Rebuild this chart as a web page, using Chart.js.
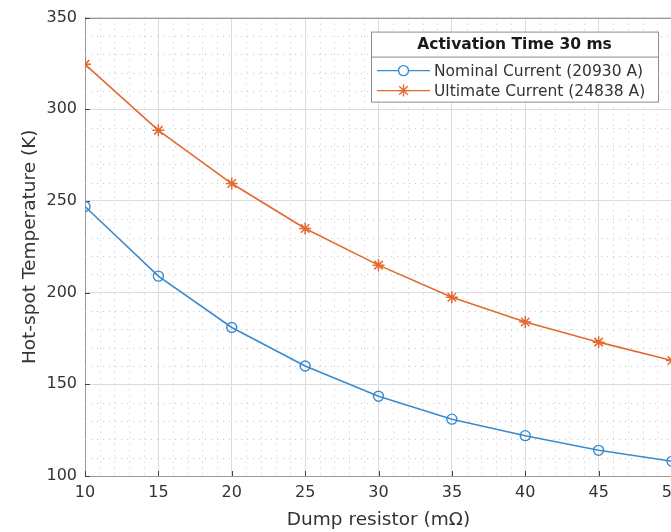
<!DOCTYPE html>
<html>
<head>
<meta charset="utf-8">
<script src="https://cdn.jsdelivr.net/npm/chart.js"></script>
<style>
  html, body { margin: 0; padding: 0; overflow: hidden; background: #fff; }
  #wrap { position: relative; width: 690px; height: 532px; }
</style>
</head>
<body>
<div id="wrap"><canvas id="hotspotChart"></canvas></div>
<script>
// Hot-spot temperature vs dump resistor, activation time 30 ms
const resistances = [10, 15, 20, 25, 30, 35, 40, 45, 50];          // mOhm
const nominalTemps = [247, 209, 181, 160, 143.5, 131, 122, 114, 108]; // K, 20930 A
const ultimateTemps = [324.5, 288.5, 259.5, 235, 215, 197.5, 184, 173, 163]; // K, 24838 A
const xTicks = [10, 15, 20, 25, 30, 35, 40, 45, 50];
const yTicks = [100, 150, 200, 250, 300, 350];

const legendTitle = 'Activation Time 30 ms';
const seriesNames = ['Nominal Current (20930 A)', 'Ultimate Current (24838 A)'];

const textColor = '#333333';
const blue = '#3a8ad0';
const orange = '#e2692f';
const FONT = "'DejaVu Sans', sans-serif";

// dotted minor grid, inward ticks and top frame line
const gridPlugin = {
    id: 'minorGrid',
    beforeDatasetsDraw(chart) {
        const {ctx, chartArea: a, scales: {x, y}} = chart;
        ctx.save();
        ctx.lineWidth = 1;
        ctx.strokeStyle = '#c6c6c6';
        ctx.setLineDash([1, 5]);
        for (let v = 10; v <= 50; v += 1) {
            if (v % 5 === 0) continue;
            const px = Math.round(x.getPixelForValue(v)) + 0.5;
            ctx.beginPath();
            ctx.moveTo(px, a.top);
            ctx.lineTo(px, a.bottom);
            ctx.stroke();
        }
        for (let v = 100; v <= 350; v += 10) {
            if (v % 50 === 0) continue;
            const py = Math.round(y.getPixelForValue(v)) + 0.5;
            ctx.beginPath();
            ctx.moveTo(a.left, py);
            ctx.lineTo(a.right, py);
            ctx.stroke();
        }
        ctx.setLineDash([]);
        // top frame
        ctx.strokeStyle = '#999';
        ctx.beginPath();
        ctx.moveTo(a.left, Math.round(a.top) + 0.5);
        ctx.lineTo(a.right, Math.round(a.top) + 0.5);
        ctx.stroke();
        // inward ticks
        ctx.strokeStyle = '#404040';
        xTicks.forEach(v => {
            const px = Math.round(x.getPixelForValue(v)) + 0.5;
            ctx.beginPath();
            ctx.moveTo(px, a.bottom);
            ctx.lineTo(px, a.bottom - 5);
            ctx.stroke();
        });
        yTicks.forEach(v => {
            const py = Math.round(y.getPixelForValue(v)) + 0.5;
            ctx.beginPath();
            ctx.moveTo(a.left, py);
            ctx.lineTo(a.left + 5, py);
            ctx.stroke();
        });
        ctx.restore();
    }
};

// MATLAB-like boxed legend with a title
const boxLegendPlugin = {
    id: 'boxLegend',
    afterDraw(chart) {
        const {ctx, chartArea: a} = chart;
        const w = 287, h = 70;
        const left = 371, top = a.top + 14;
        ctx.save();
        ctx.fillStyle = '#fff';
        ctx.fillRect(left, top, w, h);
        ctx.strokeStyle = '#8c8c8c';
        ctx.lineWidth = 1;
        ctx.strokeRect(left + 0.5, top + 0.5, w, h);
        ctx.beginPath();
        ctx.moveTo(left, top + 25.5);
        ctx.lineTo(left + w, top + 25.5);
        ctx.stroke();

        ctx.fillStyle = '#1a1a1a';
        ctx.font = "bold 15.5px " + FONT;
        ctx.textAlign = 'center';
        ctx.textBaseline = 'middle';
        ctx.fillText(legendTitle, left + w / 2, top + 13);

        ctx.font = "15.5px " + FONT;
        ctx.textAlign = 'left';
        chart.data.datasets.forEach((ds, i) => {
            const yy = top + 39 + i * 20;
            ctx.strokeStyle = ds.borderColor;
            ctx.lineWidth = 1.4;
            ctx.beginPath();
            ctx.moveTo(left + 6, yy);
            ctx.lineTo(left + 59, yy);
            ctx.stroke();
            ctx.fillStyle = '#fff';
            Chart.helpers.drawPoint(ctx, {
                pointStyle: ds.pointStyle,
                radius: ds.pointRadius,
                rotation: 0,
                borderWidth: 1.4
            }, left + 32.5, yy);
            ctx.fillStyle = textColor;
            ctx.fillText(ds.label, left + 63, yy + 1);
        });
        ctx.restore();
    }
};

const ctx = document.getElementById('hotspotChart');
new Chart(ctx, {
    type: 'line',
    data: {
        datasets: [
            {
                label: seriesNames[0],
                data: resistances.map((r, i) => ({x: r, y: nominalTemps[i]})),
                borderColor: blue,
                backgroundColor: 'rgba(0,0,0,0)',
                pointStyle: 'circle',
                pointRadius: 5,
                pointBorderWidth: 1.4,
                pointBorderColor: blue,
                pointBackgroundColor: 'rgba(0,0,0,0)',
                borderWidth: 1.6,
                tension: 0
            },
            {
                label: seriesNames[1],
                data: resistances.map((r, i) => ({x: r, y: ultimateTemps[i]})),
                borderColor: orange,
                backgroundColor: 'rgba(0,0,0,0)',
                pointStyle: 'star',
                pointRadius: 6,
                pointBorderWidth: 1.5,
                pointBorderColor: orange,
                borderWidth: 1.6,
                tension: 0
            }
        ]
    },
    options: {
        responsive: true,
        maintainAspectRatio: false,
        animation: false,
        layout: {
            padding: {left: 19, top: 16, right: 18, bottom: 1}
        },
        scales: {
            x: {
                type: 'linear',
                min: 10,
                max: 50,
                afterBuildTicks: s => { s.ticks = xTicks.map(v => ({value: v})); },
                afterFit: s => { s.height = 55; },
                grid: {color: '#dcdcdc', drawTicks: false},
                border: {color: '#999'},
                ticks: {
                    color: textColor,
                    padding: 7,
                    maxRotation: 0,
                    font: {family: FONT, size: 16}
                },
                title: {
                    display: true,
                    text: 'Dump resistor (mΩ)',
                    color: textColor,
                    padding: 0,
                    font: {family: FONT, size: 18.5}
                }
            },
            y: {
                type: 'linear',
                min: 100,
                max: 350,
                afterBuildTicks: s => { s.ticks = yTicks.map(v => ({value: v})); },
                afterFit: s => { s.width = 66; },
                grid: {color: '#dcdcdc', drawTicks: false},
                border: {color: '#999'},
                ticks: {
                    color: textColor,
                    padding: 8,
                    font: {family: FONT, size: 16}
                },
                title: {
                    display: true,
                    text: 'Hot-spot Temperature (K)',
                    color: textColor,
                    padding: 0,
                    font: {family: FONT, size: 18.5}
                }
            }
        },
        plugins: {
            legend: {display: false},
            tooltip: {enabled: false}
        }
    },
    plugins: [gridPlugin, boxLegendPlugin]
});
</script>
</body>
</html>
